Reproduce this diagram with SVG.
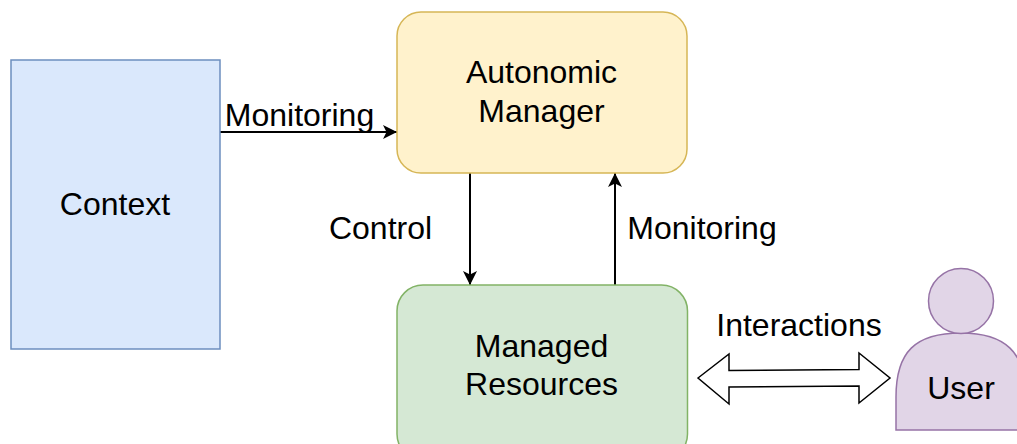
<svg xmlns="http://www.w3.org/2000/svg" width="1017" height="444" viewBox="0 0 1017 444">
<style>
text{font-family:"Liberation Sans",Arial,sans-serif;font-size:32px;fill:#000;text-anchor:middle}
.c{fill:none;stroke:#000;stroke-width:2}
.s{stroke-width:1.5}
</style>
<defs>
<marker id="a" markerUnits="userSpaceOnUse" markerWidth="16" markerHeight="16" refX="14" refY="7" orient="auto" viewBox="0 0 16 14"><path d="M0 0L14 7L0 14L3.5 7Z" fill="#000"/></marker>
</defs>
<rect width="1017" height="444" fill="#fff"/>
<g id="connectors">
<path class="c" d="M220 132H397" marker-end="url(#a)"/>
<path class="c" d="M470 173V285" marker-end="url(#a)"/>
<path class="c" d="M615 285V173" marker-end="url(#a)"/>
<path id="interactions" d="M698 378L729 354V370.500L859 369.500V353L890 378L859 403V386L729 387V404Z" fill="#fff" stroke="#000" stroke-width="1.500"/>
</g>
<g id="context"><rect class="s" x="11" y="60" width="209" height="289" fill="#dae8fc" stroke="#6c8ebf"/><text x="115" y="215">Context</text></g>
<g id="manager"><rect class="s" x="397" y="12" width="290" height="161" rx="24" fill="#fff2cc" stroke="#d6b656"/><text x="541.500" y="83">Autonomic</text><text x="541.500" y="122">Manager</text></g>
<g id="resources"><rect class="s" x="397" y="285" width="290.500" height="175" rx="26" fill="#d5e8d4" stroke="#82b366"/><text x="541.500" y="357">Managed</text><text x="541.500" y="395">Resources</text></g>
<g id="user"><path class="s" d="M896 430V397C896 352 915 333 961 333C1005 333 1026 352 1026 397V430Z" fill="#e1d5e7" stroke="#9673a6"/><circle class="s" cx="961" cy="301" r="32.500" fill="#e1d5e7" stroke="#9673a6"/><text x="961" y="399">User</text></g>
<g id="labels"><text x="299.500" y="126">Monitoring</text><text x="380.500" y="239">Control</text><text x="702" y="239">Monitoring</text><text x="799" y="336">Interactions</text></g>
</svg>
